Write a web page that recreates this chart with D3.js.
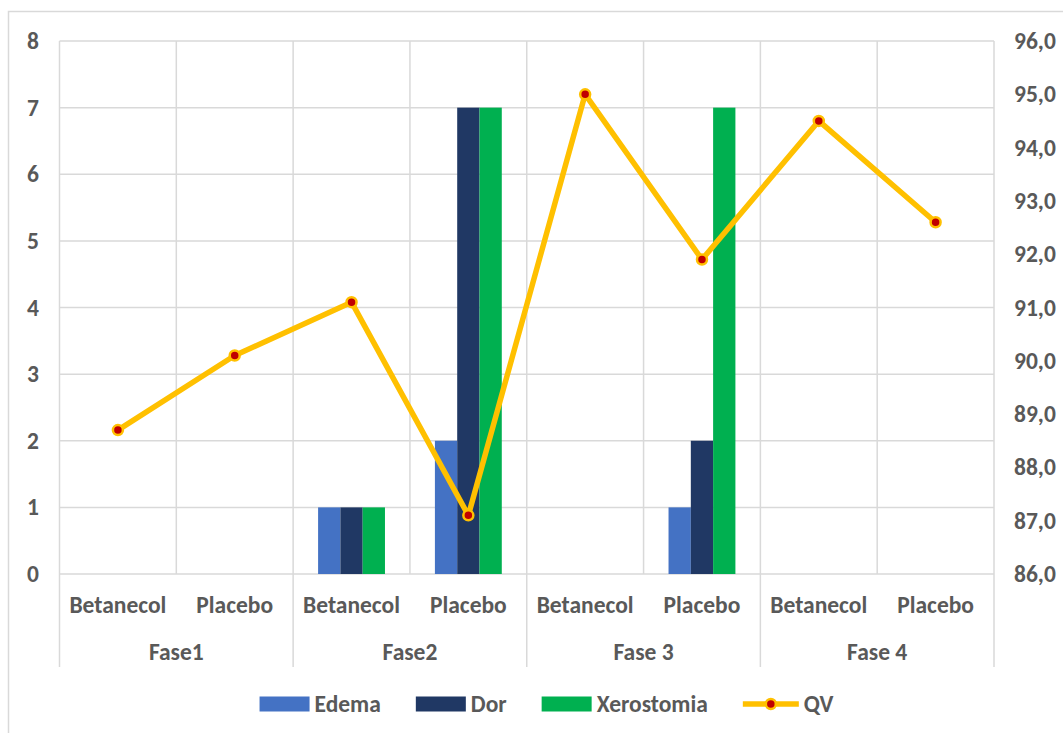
<!DOCTYPE html>
<html>
<head>
<meta charset="utf-8">
<script src="https://cdn.jsdelivr.net/npm/d3@7"></script>
<style>
  html, body { margin: 0; padding: 0; background: #ffffff; }
  svg { display: block; }
  text { font-family: Carlito, Lato, "Open Sans", sans-serif; font-weight: 700; fill: #595959; }
</style>
</head>
<body>
<svg id="chart" width="1063" height="733"></svg>
<script>
// ---- data ----
const categories = ["Betanecol", "Placebo", "Betanecol", "Placebo", "Betanecol", "Placebo", "Betanecol", "Placebo"];
const groups = ["Fase1", "Fase2", "Fase 3", "Fase 4"];
const seriesNames = ["Edema", "Dor", "Xerostomia"];
const edema = [0, 0, 1, 2, 0, 1, 0, 0];
const dor = [0, 0, 1, 7, 0, 2, 0, 0];
const xerostomia = [0, 0, 1, 7, 0, 7, 0, 0];
const qv = [88.7, 90.1, 91.1, 87.1, 95.0, 91.9, 94.5, 92.6];
const leftTicks = [0, 1, 2, 3, 4, 5, 6, 7, 8];
const rightTicks = [86, 87, 88, 89, 90, 91, 92, 93, 94, 95, 96];
const colors = ["#4472C4", "#203864", "#00B050"];
const lineColor = "#FFC000";
const markerColor = "#C00000";

const seriesValues = [edema, dor, xerostomia];

const svg = d3.select("#chart");
const W = 1063, H = 733;
const plot = { left: 59.5, right: 994, top: 41, bottom: 574 };
const grid = "#d9d9d9";
const FS = 23.5;

// chart border
svg.append("rect").attr("x", 8.5).attr("y", 11.5).attr("width", W + 10).attr("height", H + 10)
  .attr("fill", "none").attr("stroke", grid).attr("stroke-width", 1.5);

const x = d3.scaleBand().domain(d3.range(categories.length)).range([plot.left, plot.right]).padding(0);
const xs = d3.scaleBand().domain(seriesNames).range([0, x.bandwidth()]).paddingInner(0).paddingOuter(1.12);
const yL = d3.scaleLinear().domain([0, 8]).range([plot.bottom, plot.top]);
const yR = d3.scaleLinear().domain([86, 96]).range([plot.bottom, plot.top]);

// horizontal gridlines
svg.append("g").selectAll("line").data(leftTicks).join("line")
  .attr("x1", plot.left).attr("x2", plot.right)
  .attr("y1", d => yL(d)).attr("y2", d => yL(d))
  .attr("stroke", grid).attr("stroke-width", 1.5);

// vertical gridlines at category boundaries
const bounds = d3.range(categories.length + 1).map(i => i < categories.length ? x(i) : x(i - 1) + x.bandwidth());
svg.append("g").selectAll("line").data(bounds).join("line")
  .attr("x1", d => d).attr("x2", d => d)
  .attr("y1", plot.top).attr("y2", plot.bottom)
  .attr("stroke", grid).attr("stroke-width", 1.5);

// group separators below axis
const groupBounds = bounds.filter((d, i) => i % 2 === 0);
svg.append("g").selectAll("line").data(groupBounds).join("line")
  .attr("x1", d => d).attr("x2", d => d)
  .attr("y1", plot.bottom).attr("y2", 667)
  .attr("stroke", grid).attr("stroke-width", 1.5);

// bars
seriesNames.forEach((s, si) => {
  svg.append("g").selectAll("rect").data(seriesValues[si]).join("rect")
    .attr("x", (d, i) => x(i) + xs(s))
    .attr("width", xs.bandwidth())
    .attr("y", d => yL(d))
    .attr("height", d => yL(0) - yL(d))
    .attr("fill", colors[si]);
});

// line
const line = d3.line().x((d, i) => x(i) + x.bandwidth() / 2).y(d => yR(d));
svg.append("path").datum(qv).attr("d", line)
  .attr("fill", "none").attr("stroke", lineColor).attr("stroke-width", 5.5)
  .attr("stroke-linejoin", "round").attr("stroke-linecap", "round");
svg.append("g").selectAll("circle").data(qv).join("circle")
  .attr("cx", (d, i) => x(i) + x.bandwidth() / 2).attr("cy", d => yR(d))
  .attr("r", 5).attr("fill", markerColor).attr("stroke", lineColor).attr("stroke-width", 2.5);

// left axis labels
svg.append("g").selectAll("text").data(leftTicks).join("text")
  .attr("x", 33).attr("y", d => yL(d)).attr("text-anchor", "middle")
  .attr("dominant-baseline", "central").attr("font-size", FS)
  .text(d => d3.format("d")(d));

// right axis labels
const fmtR = v => d3.format(".1f")(v).replace(".", ",");
svg.append("g").selectAll("text").data(rightTicks).join("text")
  .attr("x", 1014).attr("y", d => yR(d)).attr("text-anchor", "start")
  .attr("dominant-baseline", "central").attr("font-size", FS)
  .text(fmtR);

// category labels
svg.append("g").selectAll("text").data(categories).join("text")
  .attr("x", (d, i) => x(i) + x.bandwidth() / 2).attr("y", 605)
  .attr("text-anchor", "middle").attr("dominant-baseline", "central").attr("font-size", FS)
  .text(d => d);

// group labels
svg.append("g").selectAll("text").data(groups).join("text")
  .attr("x", (d, i) => (x(i * 2) + x(i * 2 + 1) + x.bandwidth()) / 2).attr("y", 652)
  .attr("text-anchor", "middle").attr("dominant-baseline", "central").attr("font-size", FS)
  .text(d => d);

// legend
const legendItems = seriesNames.map((s, i) => ({ name: s, type: "bar", color: colors[i] }))
  .concat([{ name: "QV", type: "line" }]);
const lg = svg.append("g");
const legendY = 704;
const items = legendItems.map(it => {
  const g = lg.append("g");
  if (it.type === "bar") {
    g.append("rect").attr("x", 0).attr("y", legendY - 7.5).attr("width", 50).attr("height", 15).attr("fill", it.color);
  } else {
    g.append("line").attr("x1", 0).attr("x2", 56).attr("y1", legendY).attr("y2", legendY)
      .attr("stroke", lineColor).attr("stroke-width", 5.5);
    g.append("circle").attr("cx", 28).attr("cy", legendY).attr("r", 5)
      .attr("fill", markerColor).attr("stroke", lineColor).attr("stroke-width", 2.5);
  }
  const sw = it.type === "bar" ? 50 : 56;
  const t = g.append("text").attr("x", sw + 5).attr("y", legendY).attr("dominant-baseline", "central")
    .attr("font-size", FS).text(it.name);
  const w = sw + 5 + t.node().getComputedTextLength();
  return { g, w };
});
const gap = 35;
const total = d3.sum(items, d => d.w) + gap * (items.length - 1);
let cx = 546.5 - total / 2;
items.forEach(it => { it.g.attr("transform", `translate(${cx},0)`); cx += it.w + gap; });
</script>
</body>
</html>
